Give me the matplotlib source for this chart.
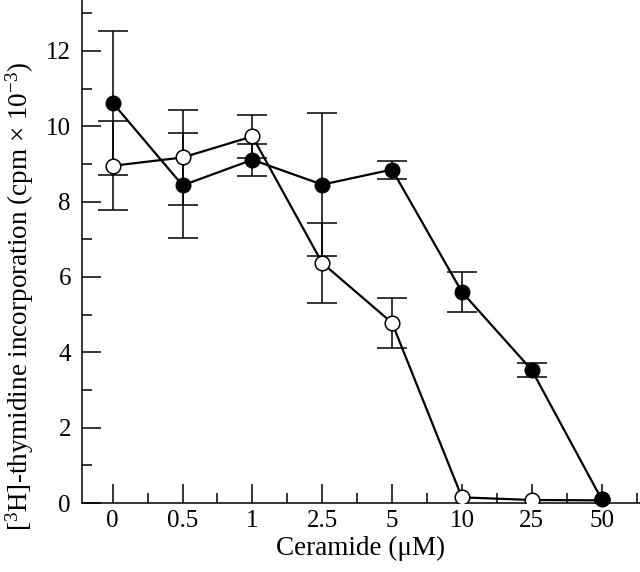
import numpy as np
import matplotlib
matplotlib.use("Agg")
import matplotlib.pyplot as plt

plt.rcParams.update({
    "font.family": "Liberation Serif",
    "mathtext.fontset": "custom",
    "mathtext.rm": "Liberation Serif",
    "mathtext.it": "Liberation Serif:italic",
    "font.size": 18,
})

# ── Data ──────────────────────────────────────────────────────────────────────
conc_labels = ["0", "0.5", "1", "2.5", "5", "10", "25", "50"]
filled_mean = [10.62, 8.43, 9.11, 8.45, 8.85, 5.60, 3.53, 0.10]
filled_err  = [1.92, 1.40, 0.43, 1.90, 0.24, 0.52, 0.19, 0.00]
open_mean   = [8.95, 9.17, 9.73, 6.37, 4.78, 0.15, 0.08, 0.07]
open_err    = [1.18, 1.27, 0.58, 1.05, 0.67, 0.00, 0.00, 0.00]

x = np.arange(len(conc_labels))


def visible_err(err):
    # no cap drawn where the error is too small to see
    err = np.asarray(err, dtype=float)
    return np.where(err > 0, err, np.nan)


fig = plt.figure(figsize=(6.4, 5.72), dpi=100)
ax = fig.add_axes([82 / 640, 69 / 572, 558 / 640, 503 / 572])

ax.errorbar(x, filled_mean, yerr=visible_err(filled_err), color="black", lw=1.6,
            elinewidth=1.1, capsize=11, capthick=1.1,
            marker="o", ms=10.5, mfc="black", mec="black", zorder=3)
ax.errorbar(x, open_mean, yerr=visible_err(open_err), color="black", lw=1.6,
            elinewidth=1.1, capsize=11, capthick=1.1,
            marker="o", ms=10.5, mfc="white", mec="black", mew=1.1, zorder=4)
# filled marker sits on top of the open one at the highest dose
ax.plot(x[-1:], filled_mean[-1:], "o", ms=10.5, color="black", zorder=5,
        clip_on=False)

ax.set_xlim(-0.44, 7.55)
ax.set_ylim(0, 13.35)
ax.set_xticks(x)
ax.set_xticklabels(conc_labels)
ax.set_xticks(np.arange(0.5, 8, 1), minor=True)
ax.set_yticks(np.arange(0, 13, 2))
ax.set_yticks(np.arange(1, 14, 2), minor=True)

for side in ["top", "right"]:
    ax.spines[side].set_visible(False)
for side in ["left", "bottom"]:
    ax.spines[side].set_linewidth(1.1)

ax.tick_params(which="both", direction="in", width=1.1)
ax.tick_params(which="major", length=14)
ax.tick_params(which="minor", length=7)
ax.tick_params(axis="y", which="major", pad=8)
ax.tick_params(axis="x", which="major", pad=5)

ax.set_xlabel("Ceramide (μM)", labelpad=3, fontsize=19.5)
fig.text(20 / 640, 1 - 296 / 572,
         r"[$^{3}$H]-thymidine incorporation (cpm × 10$^{-3}$)",
         rotation=90, ha="center", va="center", fontsize=19.5)

fig.savefig("out.png", dpi=100)
